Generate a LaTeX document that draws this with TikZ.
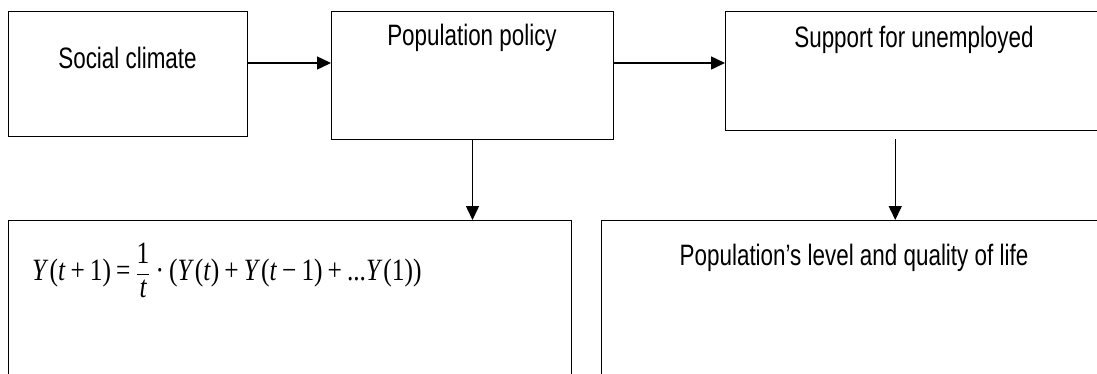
\documentclass[tikz,border=0pt]{standalone}
\usepackage{fontspec}
\setmainfont[FakeStretch=0.76]{Liberation Sans}
\newfontfamily\tnr[FakeStretch=0.82]{Liberation Serif}
\usetikzlibrary{arrows.meta}
\newcommand{\opsp}{\kern5pt}
\begin{document}
\begin{tikzpicture}[x=1pt,y=-1pt,
  box/.style={draw=black, line width=1pt, inner sep=0pt, anchor=north west},
  lbl/.style={font=\fontsize{29.5}{32}\selectfont, anchor=base, inner sep=0pt},
  formula/.style={font=\tnr\fontsize{31}{34}\selectfont, anchor=base west, inner sep=0pt},
  arr/.style={line width=1.5pt, -{Triangle[length=14pt,width=13pt]}}]
\useasboundingbox (0,0) rectangle (1097,373);
\clip (0,0) rectangle (1097,373);
% boxes
\node[box, minimum width=239pt, minimum height=125pt] (b1) at (8,11) {};
\node[box, minimum width=282pt, minimum height=128pt] (b2) at (331,11) {};
\node[box, minimum width=371.5pt, minimum height=119pt] (b3) at (725,11) {};
\node[box, minimum width=563pt, minimum height=200pt] (b4) at (8,220) {};
\node[box, minimum width=530pt, minimum height=200pt] (b5) at (601,220) {};
% texts
\node[lbl] (t1) at (127.5,68) {Social climate};
\node[lbl] (t2) at (472,45) {Population policy};
\node[lbl] (t3) at (914,47) {Support for unemployed};
\node[lbl] (t5) at (854,265) {Population’s level and quality of life};
\node[formula] (t4) at (32,280) {\textit{Y}\kern1pt(\textit{t}\opsp+\opsp1)\opsp=\opsp$\displaystyle\frac{\hbox{1}}{\hbox{\itshape t}}$\opsp·\opsp(\textit{Y}\kern1pt(\textit{t})\opsp+\opsp\textit{Y}\kern1pt(\textit{t}\opsp−\opsp1)\opsp+\opsp...\textit{Y}\kern1pt(1))};
% connectors
\draw[arr] ([yshift=-52pt]b1.north east) -- ([yshift=-52pt]b2.north west);
\draw[arr] ([yshift=-52pt]b2.north east) -- ([yshift=-52pt]b3.north west);
\draw[arr] (b2.south) -- (b2.south |- b4.north);
\coordinate (s3) at ([xshift=-16pt,yshift=-8pt]b3.south);
\draw[arr] (s3) -- (s3 |- b5.north);
\end{tikzpicture}
\end{document}
